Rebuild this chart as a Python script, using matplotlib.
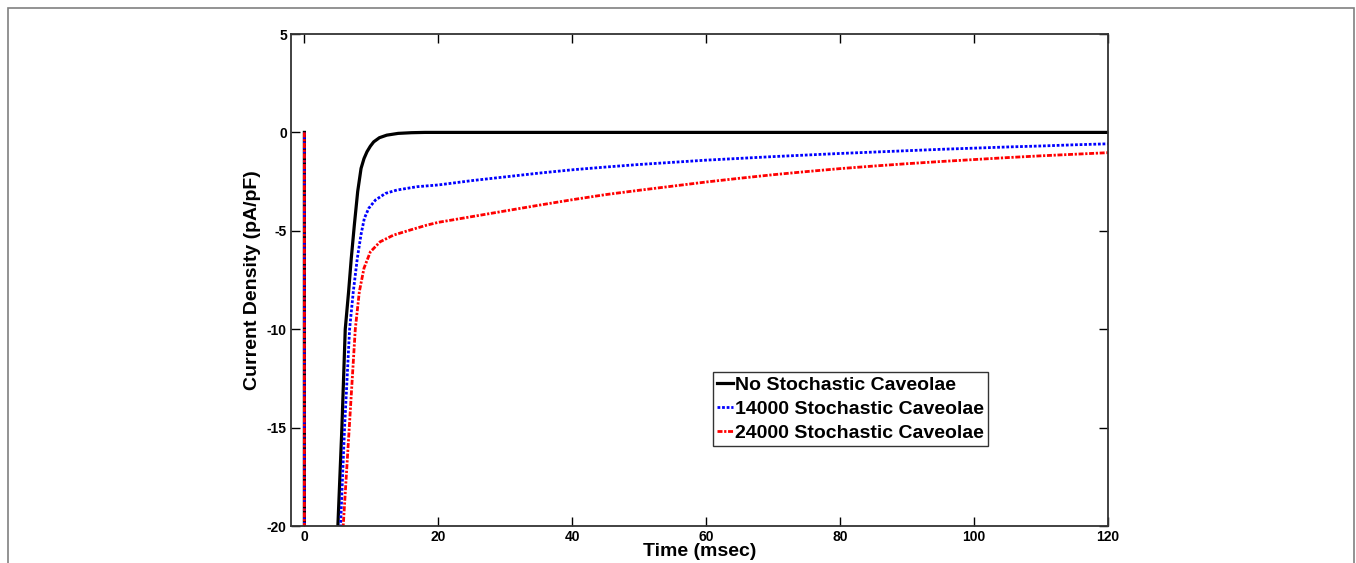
import matplotlib
matplotlib.use('Agg')
import matplotlib.pyplot as plt
from matplotlib.patches import Rectangle
from matplotlib.lines import Line2D

plt.rcParams['font.family'] = ['Liberation Sans', 'DejaVu Sans']
plt.rcParams['font.weight'] = 'bold'
plt.rcParams['axes.unicode_minus'] = False

# values (time in msec, current density in pA/pF)
t_none = [0, 0, 4.0, 5.0, 5.6, 6.1, 6.6, 7.0, 7.46, 7.96, 8.46, 8.9, 9.35, 9.85, 10.35,
          11.2, 12.3, 14.0, 16.0, 18.0, 40, 80, 120]
i_none = [0, -40, -40, -20, -15, -10, -8.1, -6.4, -4.7, -3.0, -1.83, -1.33, -0.98, -0.7,
          -0.48, -0.27, -0.14, -0.05, -0.015, 0, 0, 0, 0]

t_14k = [0, 0, 4.0, 5.4, 6.0, 6.75, 7.3, 7.9, 8.45, 8.95, 9.6, 10.6, 12.1, 13.8,
         16.8, 20.0, 25, 30, 35, 40, 45, 50, 55, 60, 65, 70, 75, 80, 85, 90,
         95, 100, 105, 110, 115, 120]
i_14k = [0, -40, -40, -20, -15, -10, -8.1, -6.4, -5.2, -4.37, -3.86, -3.44, -3.1, -2.93,
         -2.76, -2.67, -2.45, -2.26, -2.07, -1.90, -1.76, -1.63, -1.52, -1.41, -1.32,
         -1.23, -1.15, -1.07, -1.00, -0.93, -0.86, -0.80, -0.74, -0.69, -0.63, -0.58]

t_24k = [0, 0, 4.0, 5.8, 6.7, 7.6, 8.2, 8.9, 9.85, 11.3, 13.3, 15.8, 18.3, 20.0,
         25, 30, 35, 40, 45, 50, 55, 60, 65, 70, 75, 80, 85, 90, 95, 100, 105,
         110, 115, 120]
i_24k = [0, -40, -40, -20, -15, -10, -8.1, -6.9, -6.07, -5.56, -5.22, -4.96, -4.71, -4.57,
         -4.28, -3.99, -3.70, -3.42, -3.16, -2.94, -2.73, -2.52, -2.33, -2.15, -1.99,
         -1.84, -1.71, -1.59, -1.48, -1.38, -1.28, -1.19, -1.11, -1.03]

labels = ['No Stochastic Caveolae', '14000 Stochastic Caveolae', '24000 Stochastic Caveolae']
x_ticks = [0, 20, 40, 60, 80, 100, 120]
y_ticks = [-20, -15, -10, -5, 0, 5]

fig = plt.figure(figsize=(13.56, 5.63), dpi=100)
ax = fig.add_axes([291/1356, 1 - 526/563, (1108 - 291)/1356, (526 - 34)/563])

ax.plot(t_none, i_none, color='black', lw=2.3, label=labels[0])
ax.plot(t_14k, i_14k, color='#0000ff', lw=2.0, dashes=(1, 0.65), label=labels[1])
ax.plot(t_24k, i_24k, color='#ff0000', lw=2.0, dashes=(1.8, 0.6, 0.8, 0.6), label=labels[2])

ax.set_xlim(-2, 120)
ax.set_ylim(-20, 5)
ax.set_xticks(x_ticks)
ax.set_yticks(y_ticks)
ax.tick_params(direction='in', length=6.5, width=1, top=True, right=True,
               labelsize=10, colors='black', pad=3)
for lab in ax.get_xticklabels() + ax.get_yticklabels():
    lab.set_fontweight('bold')
for s in ax.spines.values():
    s.set_linewidth(1.3)
    s.set_color('#333333')

ax.set_xlabel('Time (msec)', fontsize=14, fontweight='bold', labelpad=-1)
ax.set_ylabel('Current Density (pA/pF)', fontsize=14, fontweight='bold', labelpad=4)

handles = [Line2D([], [], color='black', lw=2.3),
           Line2D([], [], color='#0000ff', lw=2.0, dashes=(1, 0.65)),
           Line2D([], [], color='#ff0000', lw=2.0, dashes=(1.8, 0.6, 0.8, 0.6))]
leg = ax.legend(handles, labels, loc='upper left', bbox_to_anchor=(0.5165, 0.313),
                frameon=True, fancybox=False, handlelength=0.8,
                handletextpad=0.1, borderpad=0.22, labelspacing=0.33,
                borderaxespad=0, prop={'weight': 'bold', 'size': 14})
leg.get_frame().set_edgecolor('black')
leg.get_frame().set_linewidth(1.0)

# outer frame of the original figure panel
fig.add_artist(Rectangle((8/1356, -0.1), (1354 - 8)/1356, 1.1 - 8/563,
                         transform=fig.transFigure, fill=False,
                         edgecolor='#808080', lw=1.2))

fig.savefig('out.png', dpi=100)
